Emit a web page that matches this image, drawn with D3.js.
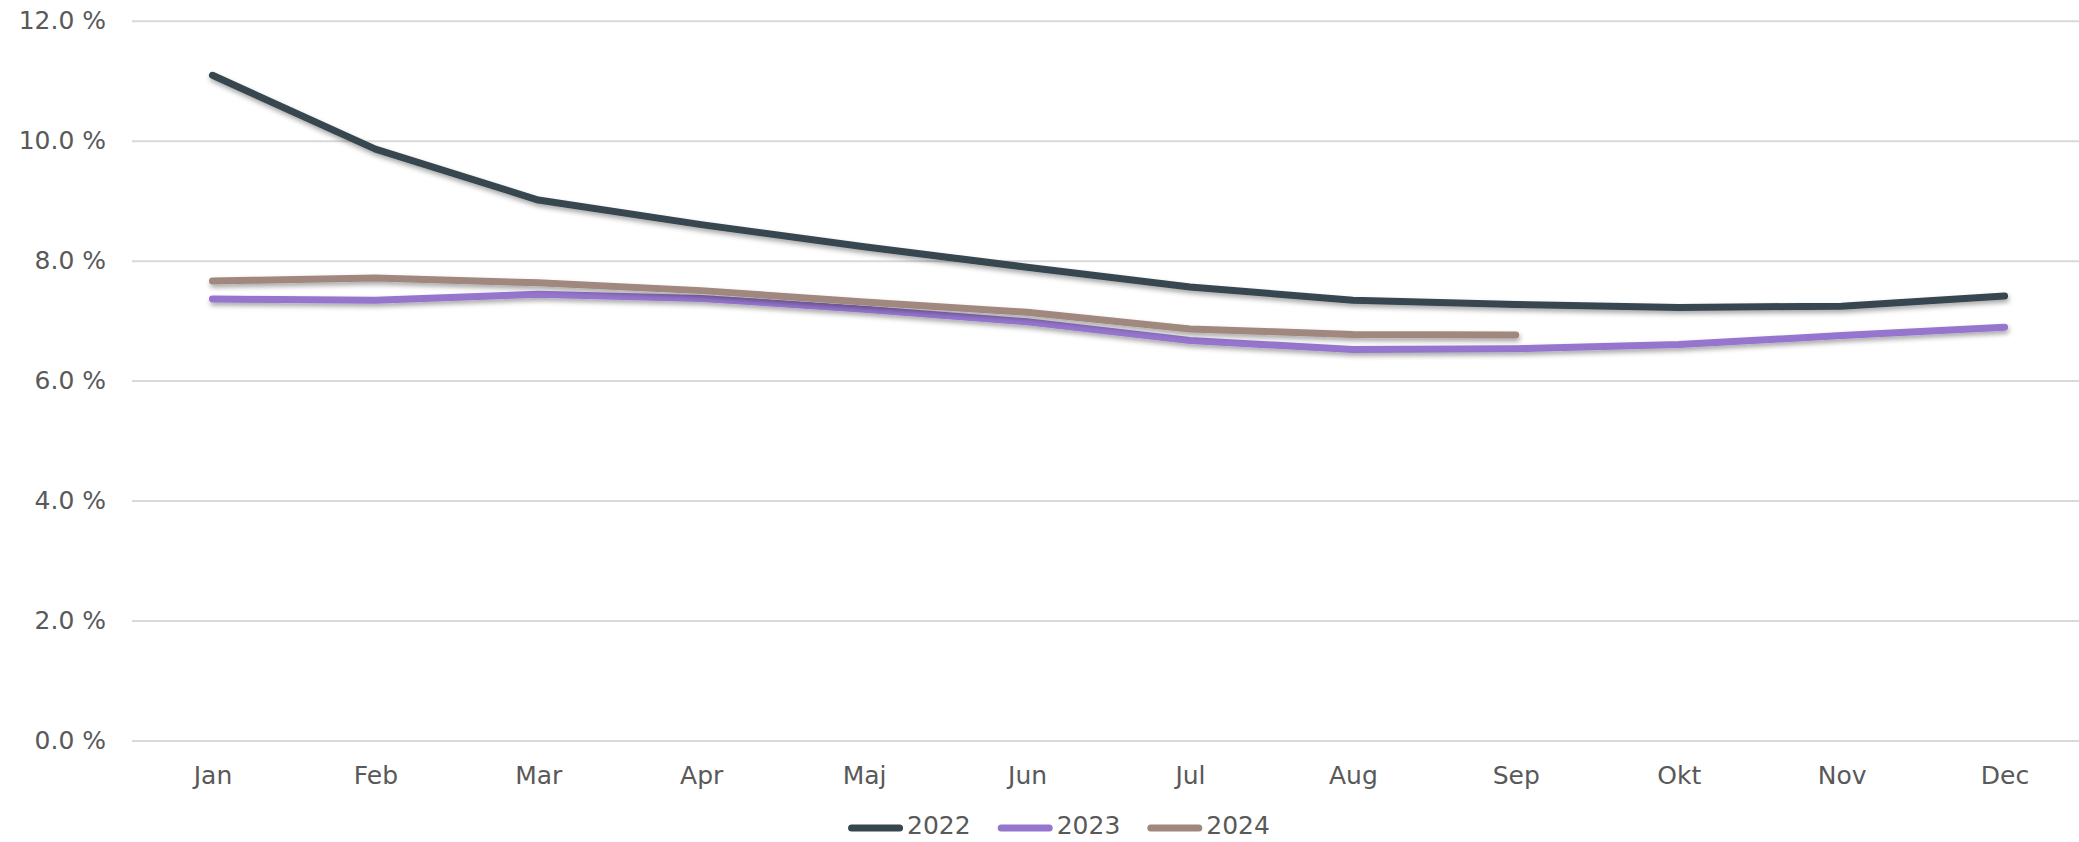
<!DOCTYPE html>
<html>
<head>
<meta charset="utf-8">
<script src="https://cdn.jsdelivr.net/npm/d3@7/dist/d3.min.js"></script>
<style>
  html, body { margin: 0; padding: 0; background: #ffffff; }
  svg { display: block; }
  text { font-family: "DejaVu Sans", Verdana, sans-serif; fill: #595959; }
</style>
</head>
<body>
<svg id="chart" width="2079" height="842"></svg>
<script>
// Monthly rates (%) per year
const months = ["Jan", "Feb", "Mar", "Apr", "Maj", "Jun", "Jul", "Aug", "Sep", "Okt", "Nov", "Dec"];
const years = ["2022", "2023", "2024"];
const values2022 = [11.09, 9.86, 9.01, 8.60, 8.23, 7.89, 7.56, 7.34, 7.27, 7.22, 7.24, 7.41];
const values2023 = [7.36, 7.34, 7.44, 7.37, 7.19, 6.98, 6.67, 6.52, 6.53, 6.60, 6.75, 6.89];
const values2024 = [7.66, 7.71, 7.63, 7.50, 7.31, 7.14, 6.86, 6.77, 6.76];
const yTicks = [0, 2, 4, 6, 8, 10, 12];

const colors = ["#37474f", "#9575cd", "#a1887f"];
const seriesValues = [values2022, values2023, values2024];

const svg = d3.select("#chart");
const width = 2079, height = 842;
const fontSize = 25;

const x = d3.scalePoint().domain(months).range([131, 2086]).padding(0.5);
const y = d3.scaleLinear().domain([0, 12]).range([740.5, 20.7]);

// soft shadow under the lines
const defs = svg.append("defs");
const f = defs.append("filter").attr("id", "shadow")
  .attr("x", "-5%").attr("y", "-20%").attr("width", "110%").attr("height", "140%");
f.append("feDropShadow").attr("dx", 1).attr("dy", 3).attr("stdDeviation", 2.5)
  .attr("flood-color", "#000").attr("flood-opacity", 0.35);

// horizontal gridlines + y labels
const yAxis = d3.axisLeft(y).tickValues(yTicks)
  .tickSize(-(width - 132)).tickPadding(26)
  .tickFormat(d => d3.format(".1f")(d) + " %");
const gy = svg.append("g").attr("transform", "translate(132,0)").call(yAxis);
gy.select(".domain").remove();
gy.selectAll(".tick line").attr("stroke", "#d9d9d9").attr("stroke-width", 2);
gy.selectAll(".tick text").attr("font-size", fontSize).attr("fill", "#595959")
  .attr("font-family", "DejaVu Sans, Verdana, sans-serif");

// month labels
const xAxis = d3.axisBottom(x).tickSize(0).tickPadding(0);
const gx = svg.append("g").attr("transform", "translate(0,740.5)").call(xAxis);
gx.select(".domain").remove();
gx.selectAll(".tick text").attr("font-size", fontSize).attr("fill", "#595959")
  .attr("font-family", "DejaVu Sans, Verdana, sans-serif")
  .attr("dy", null).attr("y", 43);

// series lines
const line = d3.line()
  .x((d, i) => x(months[i]))
  .y(d => y(d));

const lines = svg.append("g");
seriesValues.forEach((vals, k) => {
  lines.append("path")
    .attr("d", line(vals))
    .attr("fill", "none")
    .attr("stroke", colors[k])
    .attr("stroke-width", 7)
    .attr("stroke-linecap", "round")
    .attr("stroke-linejoin", "round")
    .attr("filter", "url(#shadow)");
});

// legend
const legend = svg.append("g");
let cursor = 0;
years.forEach((yr, k) => {
  const g = legend.append("g");
  g.append("line")
    .attr("x1", cursor + 3.5).attr("x2", cursor + 55 - 3.5)
    .attr("y1", 3).attr("y2", 3)
    .attr("stroke", colors[k]).attr("stroke-width", 7)
    .attr("stroke-linecap", "round");
  const t = g.append("text")
    .attr("x", cursor + 59).attr("y", 0).attr("dy", "0.36em")
    .attr("font-size", fontSize).attr("fill", "#595959")
    .text(yr);
  const w = t.node().getComputedTextLength();
  cursor += 59 + w + 27;
});
const total = cursor - 27;
legend.attr("transform", `translate(${1059 - total / 2},825)`);
</script>
</body>
</html>
